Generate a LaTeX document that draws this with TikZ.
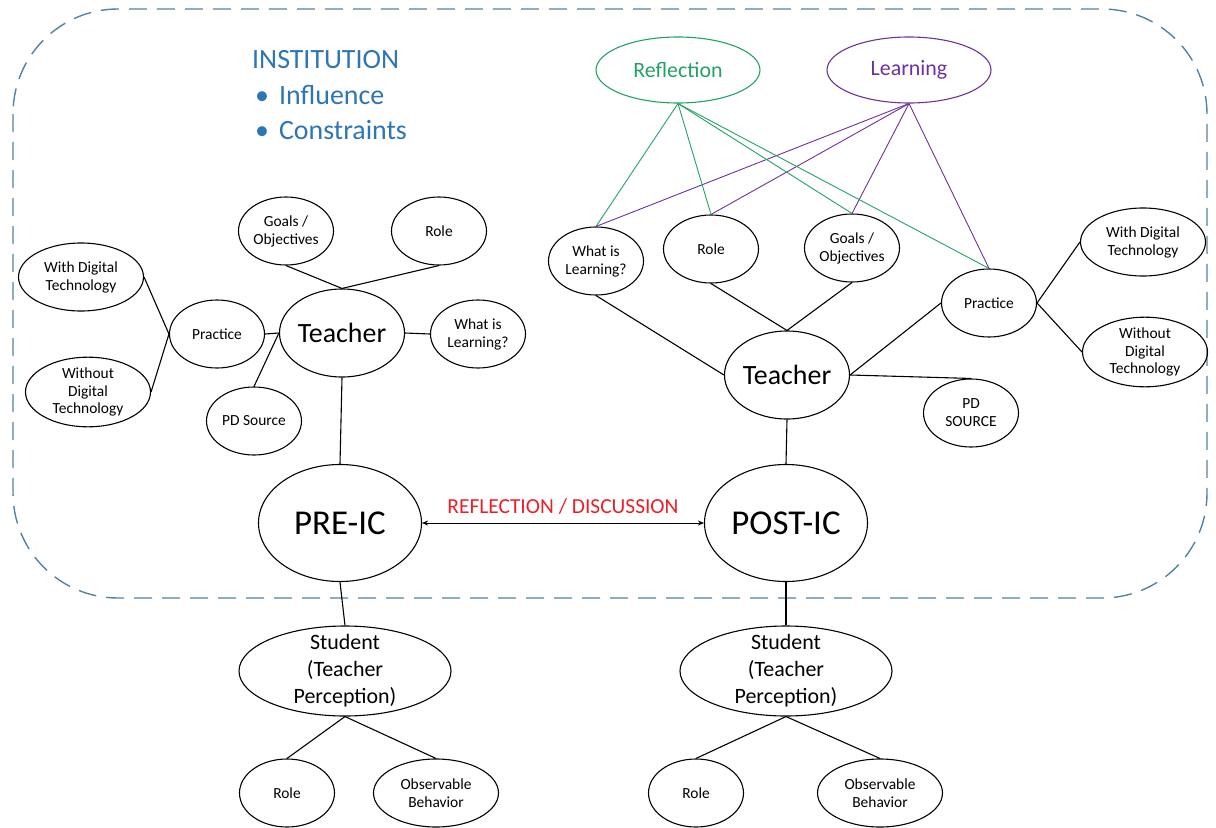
\documentclass[tikz,border=0pt]{standalone}
\usepackage{fontspec}
\setmainfont{Carlito}
\usetikzlibrary{shapes.geometric}
\usetikzlibrary{arrows.meta}

\definecolor{instblue}{RGB}{46,117,182}
\definecolor{reflgreen}{RGB}{34,163,100}
\definecolor{learnpurple}{RGB}{112,48,160}
\definecolor{discred}{RGB}{232,32,40}
\definecolor{boxgray}{RGB}{84,130,162}

\tikzset{
  bubble/.style={ellipse,draw,line width=1.1bp,inner sep=0pt,align=center,
    font=\fontsize{15.5}{18}\selectfont,minimum width=95bp,minimum height=68bp},
  widebubble/.style={bubble,minimum width=125bp},
  hub/.style={bubble,font=\fontsize{28}{32}\selectfont,minimum width=125bp,minimum height=88bp},
  phase/.style={bubble,font=\fontsize{35}{40}\selectfont,inner xsep=-3bp,minimum width=163bp,minimum height=117bp},
  pupil/.style={bubble,font=\fontsize{22}{27}\selectfont,inner ysep=-6bp,minimum width=212bp,minimum height=90bp},
  theme/.style={bubble,font=\fontsize{22}{26}\selectfont,minimum width=164bp,minimum height=66bp},
  inst/.style={text=instblue,font=\fontsize{28}{34}\selectfont,inner sep=0pt,anchor=west},
  link/.style={line width=1.1bp},
}

\begin{document}
\begin{tikzpicture}[x=1bp,y=-1bp]
\useasboundingbox (0,0) rectangle (1216,828);
\draw[boxgray,line width=1.4bp,dash pattern=on 18bp off 10bp,rounded corners=105bp] (13,9) rectangle (1207,598);

\node[inst] (instT) at (252,60) {INSTITUTION};
\node[inst] (inflT) at (255,95) {\textbullet\hspace{10bp}Influence};
\node[inst] (consT) at (255,130) {\textbullet\hspace{10bp}Constraints};

% pre side
\node[hub] (tL) at (342,333) {Teacher};
\node[bubble] (goalsL) at (286,231) {Goals /\\Objectives};
\node[bubble] (roleL) at (439,231) {Role};
\node[bubble] (practL) at (217,334) {Practice};
\node[bubble] (whatL) at (478,334) {What is\\Learning?};
\node[widebubble] (withL) at (81,277) {With Digital\\Technology};
\node[widebubble] (woutL) at (88,392) {Without\\Digital\\Technology};
\node[bubble] (pdL) at (254,421) {PD Source};
\node[phase] (pre) at (340,523) {PRE-IC};
\node[pupil] (stuL) at (345,671) {Student\\(Teacher\\Perception)};
\node[bubble] (sroleL) at (287,793) {Role};
\node[widebubble] (obsL) at (436,793) {Observable\\Behavior};

\draw[link] (goalsL.south) -- (tL.north);
\draw[link] (roleL.south) -- (tL.north);
\draw[link] (practL.east) -- (tL.west);
\draw[link] (tL.east) -- (whatL.west);
\draw[link] (tL.west) -- (pdL.north);
\draw[link] (practL.west) -- (withL.east);
\draw[link] (practL.west) -- (woutL.east);
\draw[link] (tL.south) -- (pre.north);
\draw[link] (pre.south) -- (stuL.north);
\draw[link] (stuL.south) -- (sroleL.north);
\draw[link] (stuL.south) -- (obsL.north);

% post side
\node[theme,draw=reflgreen,text=reflgreen] (refl) at (678,70) {Reflection};
\node[theme,draw=learnpurple,text=learnpurple] (learn) at (909,70) {Learning};
\node[hub] (tR) at (787,375) {Teacher};
\node[bubble] (whatR) at (596,261) {What is\\Learning?};
\node[bubble] (roleR) at (711,249) {Role};
\node[bubble] (goalsR) at (852,248) {Goals /\\Objectives};
\node[bubble] (practR) at (989,303) {Practice};
\node[widebubble] (withR) at (1143,242) {With Digital\\Technology};
\node[widebubble] (woutR) at (1145,352) {Without\\Digital\\Technology};
\node[bubble] (pdR) at (971,413) {PD\\SOURCE};
\node[phase] (post) at (786,523) {POST-IC};
\node[pupil] (stuR) at (786,671) {Student\\(Teacher\\Perception)};
\node[bubble] (sroleR) at (696,793) {Role};
\node[widebubble] (obsR) at (880,793) {Observable\\Behavior};

\foreach \n in {whatR,roleR,goalsR,practR}{
  \draw[reflgreen,line width=0.9bp] (refl.south) -- (\n.north);
  \draw[learnpurple,line width=0.9bp] (learn.south) -- (\n.north);
}
\draw[link] (whatR.south) -- (tR.west);
\draw[link] (roleR.south) -- (tR.north);
\draw[link] (goalsR.south) -- (tR.north);
\draw[link] (tR.east) -- (practR.west);
\draw[link] (tR.east) -- (pdR.north);
\draw[link] (practR.east) -- (withR.west);
\draw[link] (practR.east) -- (woutR.west);
\draw[link] (tR.south) -- (post.north);
\draw[link] (post.south) -- (stuR.north);
\draw[link] (stuR.south) -- (sroleR.north);
\draw[link] (stuR.south) -- (obsR.north);

\draw[line width=1bp,{Stealth[length=6bp,width=5bp]}-{Stealth[length=6bp,width=5bp]}] (pre.east) -- (post.west)
  node[midway,yshift=16bp,text=discred,font=\fontsize{21.5}{25}\selectfont] (discT) {REFLECTION / DISCUSSION};

\end{tikzpicture}
\end{document}
